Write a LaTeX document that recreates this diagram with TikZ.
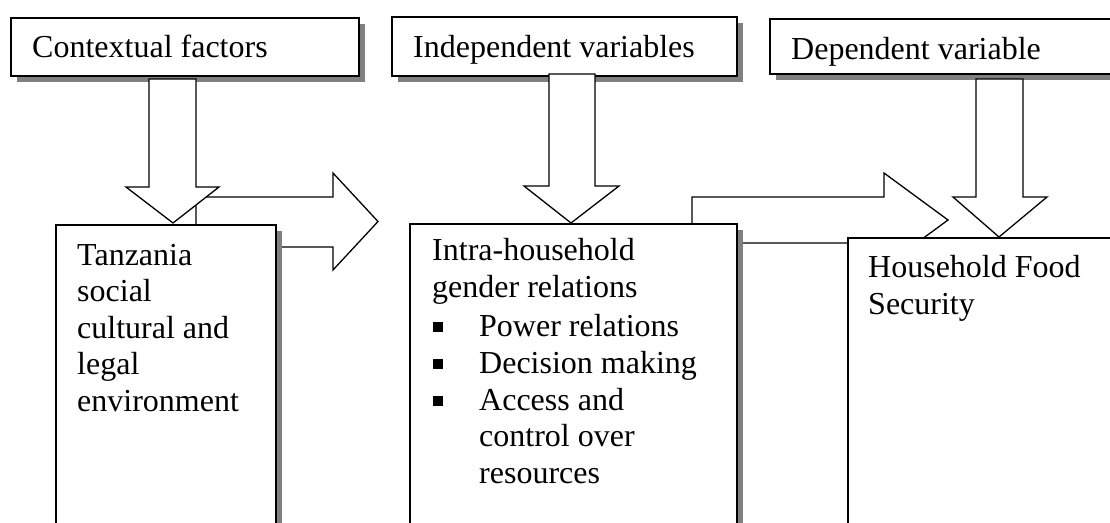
\documentclass[tikz,border=0pt]{standalone}
\usepackage{fontspec}
\setmainfont{Liberation Serif}
\usetikzlibrary{shadows}

\tikzset{
  box/.style={draw, line width=1.6pt, fill=white, inner sep=0pt, anchor=north west,
    drop shadow={shadow xshift=6pt, shadow yshift=-6pt, fill=black!50, opacity=1}},
  blockarrow/.style={draw, line width=1.3pt, fill=white, line join=miter},
  txt/.style={font=\fontsize{32}{36.5}\selectfont, inner sep=0pt, anchor=base west, align=left},
}

\begin{document}
\begin{tikzpicture}[x=1pt,y=-1pt]
    \useasboundingbox (0,0) rectangle (1110,522);
    \clip (0,0) rectangle (1110,522);
    % heading boxes
    \node[box, minimum width=348pt, minimum height=58pt] (ctxbox) at (10,17) {};
    \node[box, minimum width=345pt, minimum height=59pt] (indbox) at (391,16) {};
    \node[box, minimum width=361pt, minimum height=55pt] (depbox) at (769,18) {};
    \node[txt] (ctx) at (32,57) {Contextual factors};
    \node[txt] (ind) at (413,57) {Independent variables};
    \node[txt] (dep) at (791,59) {Dependent variable};
    % arrows going right (behind the boxes)
    \draw[blockarrow] (196,197)--(333,197)--(333,173)--(378,221.5)--(333,270)--(333,247)--(196,247)--cycle;
    \draw[blockarrow] (692,197)--(884,197)--(884,173)--(948,220)--(884,267)--(884,243)--(692,243)--cycle;
    % lower boxes
    \node[box, minimum width=220pt, minimum height=380pt] (tzbox) at (55,224) {};
    \node[box, minimum width=327pt, minimum height=380pt] (hhbox) at (409,223) {};
    \node[box, minimum width=300pt, minimum height=380pt] (fsbox) at (847,237) {};
    % arrows going down
    \draw[blockarrow] (149,79)--(196,79)--(196,187)--(219,187)--(173,223)--(126,187)--(149,187)--cycle;
    \draw[blockarrow] (549,74)--(595,74)--(595,186)--(619,186)--(571,223)--(524,186)--(549,186)--cycle;
    \draw[blockarrow] (976,79)--(1023,79)--(1023,197)--(1047,197)--(999,237)--(953,197)--(976,197)--cycle;
    % texts (multi-line nodes sit on their last baseline)
    \node[txt] (tz) at (77,411) {Tanzania\\social\\cultural and\\legal\\environment};
    \node[txt] (hh) at (432,297) {Intra-household\\gender relations};
    \foreach \y in {336,373,410}
        \node[txt] (bul\y) at (433,\y) {\raisebox{4pt}{\rule{10pt}{10pt}}};
    \node[txt] (pow) at (479,336) {Power relations};
    \node[txt] (dec) at (479,373) {Decision making};
    \node[txt] (acc) at (479,483) {Access and\\control over\\resources};
    \node[txt] (fs) at (868,314) {Household Food\\Security};
\end{tikzpicture}
\end{document}
